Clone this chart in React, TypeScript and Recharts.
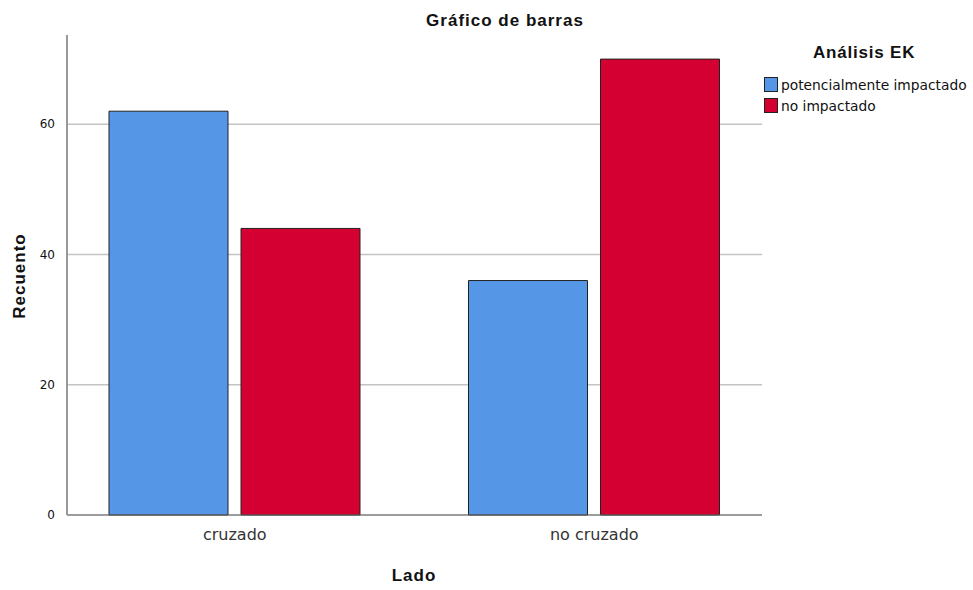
import React from 'react';
import { BarChart, Bar, XAxis, YAxis, CartesianGrid } from 'recharts';

const categories = ['cruzado', 'no cruzado'];
const potencialmente = [62, 36];
const noImpactado = [44, 70];
const yTicks = [0, 20, 40, 60];

const series = [
  { key: 'potencialmente', name: 'potencialmente impactado', color: '#5596E6' },
  { key: 'noImpactado', name: 'no impactado', color: '#D50032' },
];

const data = categories.map((lado, i) => ({
  lado,
  potencialmente: potencialmente[i],
  noImpactado: noImpactado[i],
}));

const FONT = '"Liberation Sans", Arial, sans-serif';
const LIGHT = '"DejaVu Sans", sans-serif';

const LegendBox = () => (
  <div style={{ position: 'absolute', left: 764, top: 43, fontFamily: FONT, color: '#111' }}>
    <div style={{ fontWeight: 'bold', fontSize: 17, letterSpacing: 0.8, marginLeft: 49, marginBottom: 11 }}>
      Análisis EK
    </div>
    {series.map(s => (
      <div key={s.key} style={{ display: 'flex', alignItems: 'center', fontSize: 13.8, fontFamily: LIGHT, height: 21 }}>
        <span
          style={{
            width: 14,
            height: 15,
            background: s.color,
            border: '1px solid #222',
            marginRight: 3,
            boxSizing: 'border-box',
          }}
        />
        <span>{s.name}</span>
      </div>
    ))}
  </div>
);

// grid lines only at the labelled ticks, positioned by the y axis scale
const gridAtTicks = (props: any) => {
  const scale = props?.yAxis?.scale;
  if (typeof scale === 'function') return yTicks.map(t => scale(t));
  if (scale && typeof scale.map === 'function') return yTicks.map(t => scale.map(t));
  return [];
};

export default function App() {
  return (
    <div style={{ position: 'absolute', left: 0, top: 0, width: 973, height: 590, background: '#fff' }}>
      <BarChart
        width={973}
        height={590}
        data={data}
        margin={{ top: 35, right: 211, left: 17, bottom: 45 }}
        barSize={119}
        barGap={13}
      >
        <text x={505} y={26} textAnchor="middle" fontFamily={FONT} fontWeight="bold" fontSize={17} letterSpacing={1} fill="#111">
          Gráfico de barras
        </text>
        <text
          x={25}
          y={276}
          textAnchor="middle"
          transform="rotate(-90 25 276)"
          fontFamily={FONT}
          fontWeight="bold"
          fontSize={17}
          letterSpacing={1}
          fill="#111"
        >
          Recuento
        </text>
        <text x={414} y={581} textAnchor="middle" fontFamily={FONT} fontWeight="bold" fontSize={17} letterSpacing={1} fill="#111">
          Lado
        </text>
        <CartesianGrid
          vertical={false}
          stroke="#c4c4c4"
          strokeWidth={1.3}
          horizontalCoordinatesGenerator={gridAtTicks}
        />
        <XAxis
          dataKey="lado"
          height={30}
          padding={{ left: -12, right: -12 }}
          axisLine={{ stroke: '#666' }}
          tickLine={false}
          tick={{ fill: '#333', fontSize: 16, fontFamily: LIGHT }}
          tickMargin={8}
        />
        <YAxis
          width={50}
          domain={[0, 73.7]}
          ticks={yTicks}
          axisLine={{ stroke: '#999', strokeWidth: 2 }}
          tickLine={false}
          tick={{ fill: '#111', fontSize: 12, fontFamily: LIGHT }}
          tickMargin={6}
        />
        {series.map(s => (
          <Bar
            key={s.key}
            dataKey={s.key}
            name={s.name}
            fill={s.color}
            stroke="#222"
            strokeWidth={1}
            isAnimationActive={false}
          />
        ))}
      </BarChart>
      <LegendBox />
    </div>
  );
}
